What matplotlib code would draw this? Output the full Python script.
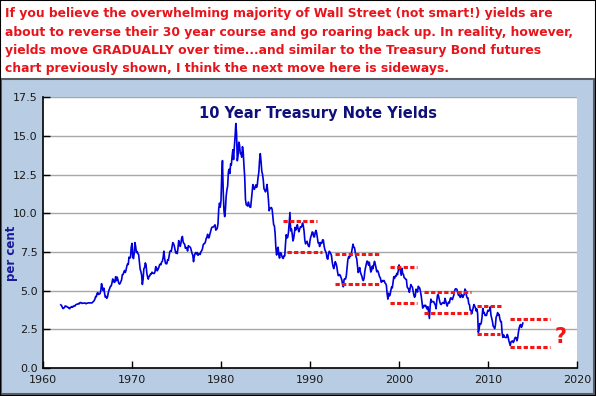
import numpy as np
import matplotlib
matplotlib.use('Agg')
import matplotlib.pyplot as plt
from matplotlib.patches import Rectangle

# monthly 10 year yields (per cent)
y1960s = [4.08, 4.04, 3.93, 3.84, 3.87, 3.91, 4.01, 3.98, 3.98, 3.93, 3.92, 3.86,
          3.83, 3.92, 3.93, 3.97, 3.93, 3.99, 4.02, 4.00, 4.08, 4.11, 4.12, 4.13,
          4.17, 4.15, 4.22, 4.23, 4.20, 4.17, 4.19, 4.19, 4.20, 4.19, 4.15, 4.18,
          4.19, 4.21, 4.21, 4.20, 4.21, 4.21, 4.20, 4.25, 4.29, 4.35, 4.45, 4.62,
          4.61, 4.83, 4.87, 4.75, 4.78, 4.81, 5.02, 5.45, 5.18, 5.01, 5.16, 4.84,
          4.58, 4.63, 4.50, 4.59, 4.85, 5.02, 5.16, 5.28, 5.30, 5.48, 5.75, 5.70,
          5.53, 5.56, 5.90, 5.64, 5.87, 5.72, 5.50, 5.42, 5.46, 5.58, 5.70, 6.03,
          6.04, 6.19, 6.30, 6.17, 6.32, 6.57, 6.72, 6.69, 7.16, 7.10, 7.14, 7.80]
y1970s = [8.05, 7.24, 7.07, 7.39, 8.10, 7.84, 7.46, 7.53, 7.39, 7.33, 6.84, 6.39,
          6.24, 6.00, 5.40, 5.73, 6.41, 6.49, 6.79, 6.67, 6.13, 5.89, 5.74, 5.93,
          5.95, 6.08, 6.07, 6.19, 6.13, 6.11, 6.11, 6.21, 6.55, 6.48, 6.28, 6.36,
          6.46, 6.64, 6.71, 6.67, 6.85, 6.90, 7.13, 7.55, 7.09, 6.79, 6.73, 6.74,
          6.99, 6.96, 7.21, 7.51, 7.58, 7.54, 7.81, 8.10, 8.04, 7.90, 7.68, 7.43,
          7.50, 7.39, 7.73, 8.23, 8.06, 7.86, 8.06, 8.40, 8.50, 8.14, 8.05, 8.00,
          7.74, 7.79, 7.73, 7.56, 7.90, 7.86, 7.83, 7.77, 7.59, 7.41, 7.29, 6.87,
          7.21, 7.39, 7.46, 7.37, 7.46, 7.28, 7.33, 7.40, 7.34, 7.52, 7.58, 7.69,
          7.96, 8.03, 8.04, 8.15, 8.35, 8.46, 8.64, 8.41, 8.42, 8.64, 8.81, 9.01,
          9.10, 9.10, 9.12, 9.18, 9.25, 8.91, 8.95, 9.03, 9.33, 10.30, 10.65, 10.39]
y1980s = [10.80, 12.41, 13.40, 11.47, 10.18, 9.78, 10.25, 11.10, 11.51, 11.75, 12.68, 12.84,
          12.57, 13.19, 13.12, 13.68, 14.10, 13.47, 14.28, 14.94, 15.80, 15.15, 13.39, 13.72,
          14.59, 14.43, 13.86, 13.87, 13.62, 14.30, 13.95, 13.06, 12.34, 10.91, 10.55, 10.54,
          10.46, 10.72, 10.51, 10.40, 10.38, 10.85, 11.38, 11.85, 11.65, 11.54, 11.69, 11.83,
          11.67, 11.84, 12.32, 12.63, 13.41, 13.85, 13.36, 12.72, 12.52, 12.16, 11.57, 11.50,
          11.38, 11.51, 11.86, 11.43, 10.85, 10.16, 10.31, 10.33, 10.37, 10.24, 9.78, 9.26,
          9.19, 8.70, 7.78, 7.30, 7.71, 7.80, 7.30, 7.10, 7.45, 7.43, 7.25, 7.11,
          7.08, 7.25, 7.25, 8.02, 8.61, 8.40, 8.45, 8.76, 9.42, 10.05, 8.86, 8.99,
          8.67, 8.21, 8.37, 8.72, 9.09, 8.92, 9.06, 9.26, 8.98, 8.80, 8.96, 9.11,
          9.09, 9.17, 9.36, 9.18, 8.86, 8.28, 8.02, 8.11, 8.19, 8.01, 7.87, 7.84]
y1990s = [8.21, 8.47, 8.59, 8.79, 8.76, 8.48, 8.47, 8.75, 8.89, 8.72, 8.39, 8.08,
          8.09, 7.85, 8.11, 8.04, 8.07, 8.28, 8.27, 7.90, 7.65, 7.53, 7.42, 7.09,
          7.03, 7.34, 7.54, 7.48, 7.39, 7.26, 6.84, 6.59, 6.42, 6.59, 6.87, 6.77,
          6.60, 6.26, 5.98, 5.97, 6.04, 5.96, 5.81, 5.68, 5.36, 5.25, 5.72, 5.77,
          5.75, 5.97, 6.48, 6.97, 7.18, 7.10, 7.30, 7.24, 7.46, 7.74, 8.00, 7.81,
          7.78, 7.47, 7.20, 7.06, 6.63, 6.17, 6.28, 6.49, 6.20, 6.04, 5.93, 5.71,
          5.65, 5.81, 6.27, 6.51, 6.74, 6.91, 6.87, 6.64, 6.83, 6.53, 6.20, 6.30,
          6.58, 6.42, 6.69, 6.89, 6.71, 6.49, 6.22, 6.30, 6.21, 6.03, 5.88, 5.81,
          5.54, 5.57, 5.65, 5.64, 5.65, 5.50, 5.46, 5.34, 4.81, 4.45, 4.83, 4.65,
          4.72, 5.00, 5.23, 5.18, 5.54, 5.90, 5.79, 5.94, 5.92, 6.11, 6.03, 6.28]
y2000s = [6.66, 6.52, 6.26, 5.99, 6.44, 6.10, 6.05, 5.83, 5.80, 5.74, 5.72, 5.24,
          5.16, 5.10, 4.89, 5.14, 5.39, 5.28, 5.24, 4.97, 4.73, 4.57, 4.65, 5.09,
          5.04, 4.91, 5.28, 5.21, 5.16, 4.93, 4.65, 4.26, 3.87, 3.94, 4.05, 4.03,
          4.05, 3.90, 3.81, 3.96, 3.57, 3.20, 3.98, 4.45, 4.27, 4.29, 4.30, 4.27,
          4.15, 4.08, 3.83, 4.35, 4.72, 4.73, 4.50, 4.28, 4.13, 4.10, 4.19, 4.23,
          4.22, 4.17, 4.50, 4.34, 4.14, 4.00, 4.18, 4.26, 4.20, 4.46, 4.54, 4.47,
          4.42, 4.57, 4.72, 4.99, 5.11, 5.11, 5.09, 4.88, 4.72, 4.73, 4.60, 4.56,
          4.76, 4.72, 4.56, 4.69, 4.75, 5.10, 5.00, 4.67, 4.52, 4.53, 4.15, 4.10,
          3.74, 3.74, 3.51, 3.68, 3.88, 4.10, 4.01, 3.89, 3.69, 3.81, 3.53, 2.30,
          2.52, 2.87, 2.82, 2.93, 3.29, 3.85, 3.56, 3.59, 3.40, 3.39, 3.40, 3.59]
y2010s = [3.73, 3.69, 3.73, 3.95, 3.42, 3.20, 3.01, 2.70, 2.65, 2.54, 2.76, 3.29,
          3.39, 3.58, 3.41, 3.46, 3.17, 3.00, 3.00, 2.30, 1.98, 2.15, 2.01, 1.98,
          1.97, 1.97, 2.17, 2.05, 1.80, 1.62, 1.45, 1.68, 1.72, 1.75, 1.65, 1.72,
          1.91, 1.98, 1.96, 1.76, 1.93, 2.30, 2.58, 2.74, 2.81, 2.62, 2.72, 2.90]
start_year = 1962

# red dashed trading ranges: start, end, level
seg_start = [1987.0, 1987.4, 1992.8, 1992.8, 1999.0, 1999.0, 2002.8, 2002.8, 2008.8, 2008.8, 2012.5, 2012.5]
seg_end   = [1990.8, 1991.3, 1998.0, 1998.0, 2002.0, 2002.0, 2008.1, 2008.1, 2011.5, 2011.3, 2017.0, 2017.0]
seg_level = [9.5, 7.5, 7.35, 5.4, 6.5, 4.2, 4.9, 3.55, 4.0, 2.2, 3.15, 1.35]

note = ["If you believe the overwhelming majority of Wall Street (not smart!) yields are",
        "about to reverse their 30 year course and go roaring back up. In reality, however,",
        "yields move GRADUALLY over time...and similar to the Treasury Bond futures",
        "chart previously shown, I think the next move here is sideways."]

yields = np.array(y1960s + y1970s + y1980s + y1990s + y2000s + y2010s)
years = start_year + np.arange(len(yields)) / 12.0

fig = plt.figure(figsize=(5.96, 3.96), dpi=100)
fig.patch.set_facecolor('white')
fig.patches.append(Rectangle((0.002, 0.004), 0.995, 0.797, transform=fig.transFigure,
                             facecolor='#b8cce4', edgecolor='#5a5f66', lw=1.5, zorder=-5))
fig.patches.append(Rectangle((0, 0), 1, 1, transform=fig.transFigure,
                             fill=False, edgecolor='black', lw=1.5, zorder=-5))

red = '#e8141b'
line_y = [0.967, 0.919, 0.873, 0.828]
for txt, yy in zip(note, line_y):
    fig.text(0.009, yy, txt, color=red, fontsize=8.9, fontweight='bold', va='center', ha='left')

ax = fig.add_axes([0.0721, 0.0707, 0.896, 0.684])
ax.set_zorder(1)
ax.set_facecolor('white')
ax.plot(years, yields, color='#0000dd', lw=1.2, zorder=3)

for x0, x1, lv in zip(seg_start, seg_end, seg_level):
    ax.plot([x0, x1], [lv, lv], color='#f51515', lw=2.2, dashes=(1.4, 0.75), zorder=4)

ax.text(2018.2, 2.0, '?', color='#f51515', fontsize=15, fontweight='bold', ha='center', va='center')

ax.set_xlim(1960, 2020)
ax.set_ylim(0, 17.5)
ax.set_xticks(range(1960, 2021, 10))
ax.set_yticks(np.arange(0, 17.6, 2.5))
ax.set_yticklabels(['%.1f' % v for v in np.arange(0, 17.6, 2.5)])
ax.grid(axis='y', color='#a8a8a8', lw=1)
ax.set_axisbelow(True)
ax.tick_params(direction='in', length=5, width=1, colors='black', labelsize=8, labelcolor='#1a1a1a')
ax.tick_params(axis='y', pad=4)
ax.tick_params(axis='x', pad=5)
for s in ['top', 'right']:
    ax.spines[s].set_visible(False)
for s in ['left', 'bottom']:
    ax.spines[s].set_color('black')
    ax.spines[s].set_linewidth(1.2)

ax.text(0.515, 0.941, '10 Year Treasury Note Yields', transform=ax.transAxes, ha='center', va='center',
        color='#10107a', fontsize=10.5, fontweight='bold')
fig.text(0.019, 0.36, 'per cent', rotation=90, color='#1a1a9a', fontsize=8.5, fontweight='bold',
         ha='center', va='center')

fig.savefig('out.png', dpi=100)
